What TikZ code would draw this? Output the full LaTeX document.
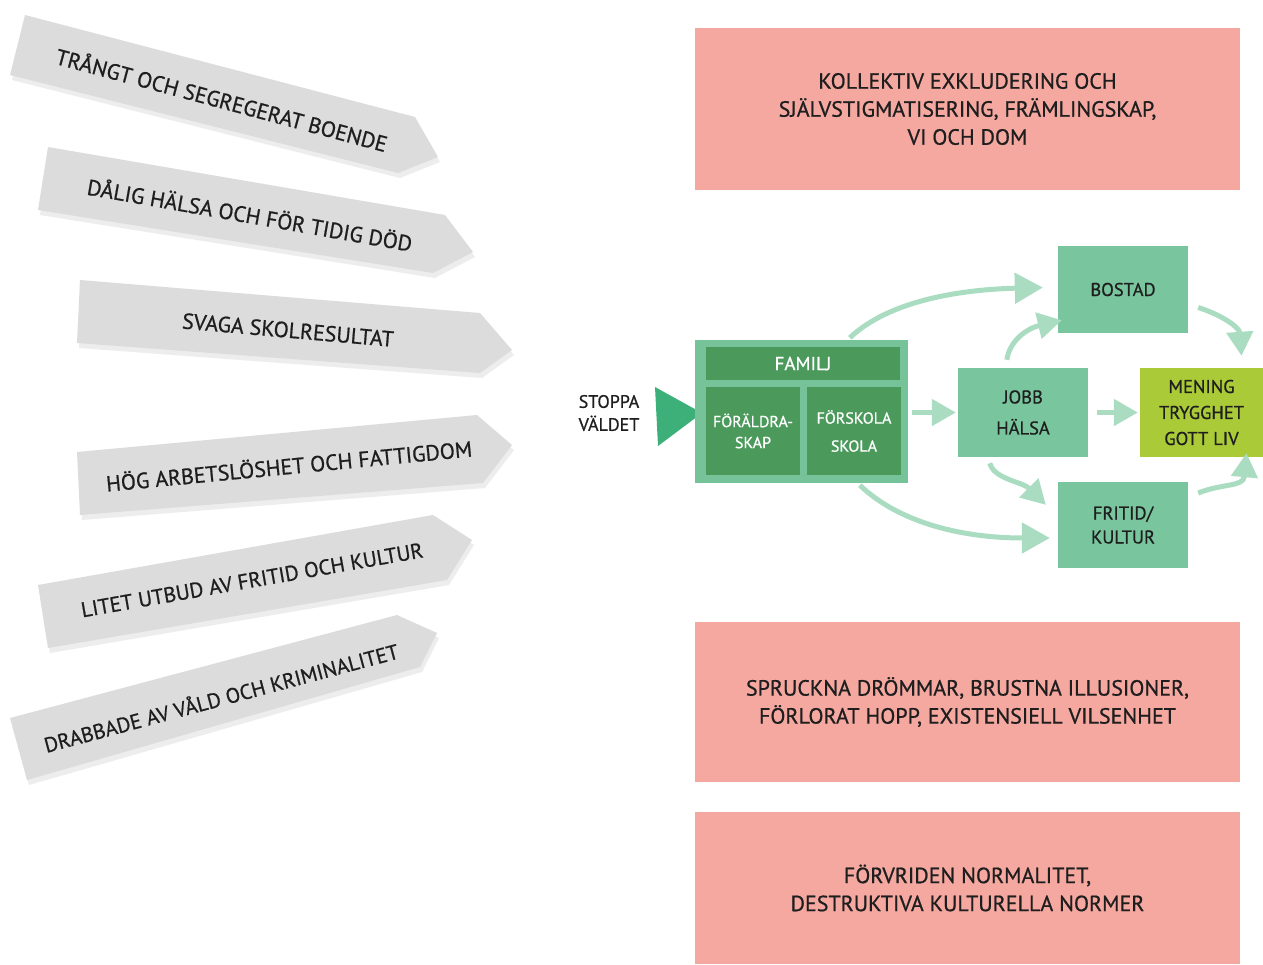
\documentclass[tikz,border=0pt]{standalone}
\usepackage{fontspec}
\setmainfont{PT Sans}[FakeBold=0.7]
\usetikzlibrary{arrows.meta,calc}
\definecolor{pinkbox}{HTML}{F4A8A0}
\definecolor{signgray}{HTML}{DCDCDC}
\definecolor{signshadow}{HTML}{EDEDED}
\definecolor{mintbox}{HTML}{79C59E}
\definecolor{darkpanel}{HTML}{4B9A5C}
\definecolor{famouter}{HTML}{76C39A}
\definecolor{lime}{HTML}{ABCA38}
\definecolor{trigreen}{HTML}{3DB07A}
\definecolor{flow}{HTML}{AADCC1}
\definecolor{ink}{HTML}{1E1E1E}
\tikzset{
  sign/.style={fill=signgray},
  signsh/.style={fill=signshadow},
  signtext/.style={inner sep=0, text=ink, font=\fontsize{22}{28}\selectfont},
  pinkrect/.style={fill=pinkbox, inner sep=0, minimum width=545, align=center, text=ink, font=\fontsize{22}{28}\selectfont},
  gbox/.style={fill=mintbox, inner sep=0, minimum width=130, minimum height=88, align=center, text=ink, font=\fontsize{18.5}{31}\selectfont},
  panel/.style={fill=darkpanel, inner sep=0, align=center, text=white, font=\fontsize{16}{21}\selectfont},
  flowarrow/.style={draw=flow, line width=5pt, -{Triangle[length=28pt,width=30pt]}},
  smallflow/.style={draw=flow, line width=5pt, -{Triangle[length=24pt,width=26pt]}}
}
\begin{document}
\begin{tikzpicture}[x=1pt,y=-1pt]
\fill[white] (0,0) rectangle (1263,964);
\useasboundingbox (0,0) rectangle (1263,964);

% left signs (shadow then sign)
\begin{scope}[shift={(2,5)}]
\path[signsh] (25,15) -- (415,117) -- (438,157) -- (398,173) -- (10,75) -- cycle;
\path[signsh] (48,147) -- (445,215) -- (473,252) -- (433,273) -- (38,210) -- cycle;
\path[signsh] (80,280) -- (480,313) -- (512,350) -- (480,373) -- (77,343) -- cycle;
\path[signsh] (77,452) -- (477,415) -- (512,445) -- (483,483) -- (80,515) -- cycle;
\path[signsh] (38,585) -- (433,515) -- (472,540) -- (447,580) -- (48,648) -- cycle;
\path[signsh] (10,718) -- (397,615) -- (437,633) -- (420,667) -- (27,780) -- cycle;
\end{scope}
\path[sign] (25,15) -- (415,117) -- (438,157) -- (398,173) -- (10,75) -- cycle;
\path[sign] (48,147) -- (445,215) -- (473,252) -- (433,273) -- (38,210) -- cycle;
\path[sign] (80,280) -- (480,313) -- (512,350) -- (480,373) -- (77,343) -- cycle;
\path[sign] (77,452) -- (477,415) -- (512,445) -- (483,483) -- (80,515) -- cycle;
\path[sign] (38,585) -- (433,515) -- (472,540) -- (447,580) -- (48,648) -- cycle;
\path[sign] (10,718) -- (397,615) -- (437,633) -- (420,667) -- (27,780) -- cycle;

\node[signtext, rotate=-15] (t1) at (222,99) {TRÅNGT OCH SEGREGERAT BOENDE};
\node[signtext, rotate=-10] (t2) at (250,214) {DÅLIG HÄLSA OCH FÖR TIDIG DÖD};
\node[signtext, rotate=-5] (t3) at (288,330) {SVAGA SKOLRESULTAT};
\node[signtext, rotate=5.5] (t4) at (289,465) {HÖG ARBETSLÖSHET OCH FATTIGDOM};
\node[signtext, rotate=10, font=\fontsize{21.3}{28}\selectfont] (t5) at (252,580) {LITET UTBUD AV FRITID OCH KULTUR};
\node[signtext, rotate=15, font=\fontsize{21}{28}\selectfont] (t6) at (221,697) {DRABBADE AV VÅLD OCH KRIMINALITET};

% pink boxes
\node[pinkrect, minimum height=162] (p1) at (967.5,109) {KOLLEKTIV EXKLUDERING OCH\\SJÄLVSTIGMATISERING, FRÄMLINGSKAP,\\VI OCH DOM};
\node[pinkrect, minimum height=160] (p2) at (967.5,702) {SPRUCKNA DRÖMMAR, BRUSTNA ILLUSIONER,\\FÖRLORAT HOPP, EXISTENSIELL VILSENHET};
\node[pinkrect, minimum height=152] (p3) at (967.5,888) {FÖRVRIDEN NORMALITET,\\DESTRUKTIVA KULTURELLA NORMER};

% stop text and triangle
\node[inner sep=0, align=center, text=ink, font=\fontsize{18}{23}\selectfont] (stop) at (609,413) {STOPPA\\VÄLDET};
\fill[trigreen] (655,387) -- (702,413) -- (658,446) -- cycle;

% family block
\node[fill=famouter, inner sep=0, minimum width=213, minimum height=143] (fam) at (801.5,411.5) {};
\node[panel, minimum width=194, minimum height=33, font=\fontsize{19}{22}\selectfont] (famhead) at (803,363.5) {FAMILJ};
\node[panel, minimum width=94, minimum height=88] (foraldra) at (753,431) {FÖRÄLDRA-\\SKAP};
\node[panel, minimum width=94, minimum height=88, font=\fontsize{16}{28}\selectfont] (forskola) at (854,431) {FÖRSKOLA\\SKOLA};

% right boxes
\node[gbox, minimum height=89] (jobb) at (1023,412.5) {JOBB\\HÄLSA};
\node[gbox, minimum height=87] (bostad) at (1123,289.5) {BOSTAD};
\node[gbox, minimum height=86, font=\fontsize{18.5}{24}\selectfont] (fritid) at (1123,525) {FRITID/\\KULTUR};
\node[gbox, fill=lime, minimum width=123, minimum height=89, font=\fontsize{18.5}{26}\selectfont] (mening) at (1201.5,412.5) {MENING\\TRYGGHET\\GOTT LIV};

% flow connectors
\draw[flowarrow] ($(fam.north west)+(155,-2)$) .. controls ($(fam.north west)+(195,-40)$) and ($(bostad.west)+(-95,0)$) .. ($(bostad.west)+(-15,-2)$);
\draw[flowarrow] ($(fam.south west)+(165,2)$) .. controls ($(fam.south west)+(205,40)$) and ($(fritid.west)+(-95,13)$) .. ($(fritid.west)+(-8,13)$);
\draw[smallflow] ($(fam.east)+(4,1)$) -- ($(jobb.west)+(-2,0)$);
\draw[smallflow] ($(jobb.east)+(9,0)$) -- ($(mening.west)+(-2,0)$);
\draw[smallflow] ($(jobb.north west)+(49,-8)$) .. controls ($(jobb.north west)+(52,-28)$) and ($(bostad.south west)+(-30,-5)$) .. ($(bostad.south west)+(4,-13)$);
\draw[smallflow] ($(jobb.south west)+(32,6)$) .. controls ($(jobb.south west)+(36,22)$) and ($(fritid.north west)+(-35,0)$) .. ($(fritid.north west)+(-12,23)$);
\draw[smallflow] ($(bostad.east)+(10,18)$) .. controls ($(bostad.east)+(35,26)$) and ($(mening.north)+(38,-40)$) .. ($(mening.north)+(40,-12)$);
\draw[smallflow] ($(fritid.east)+(10,-32)$) .. controls ($(fritid.east)+(35,-42)$) and ($(mening.south)+(42,30)$) .. ($(mening.south)+(45,-4)$);
\end{tikzpicture}
\end{document}
